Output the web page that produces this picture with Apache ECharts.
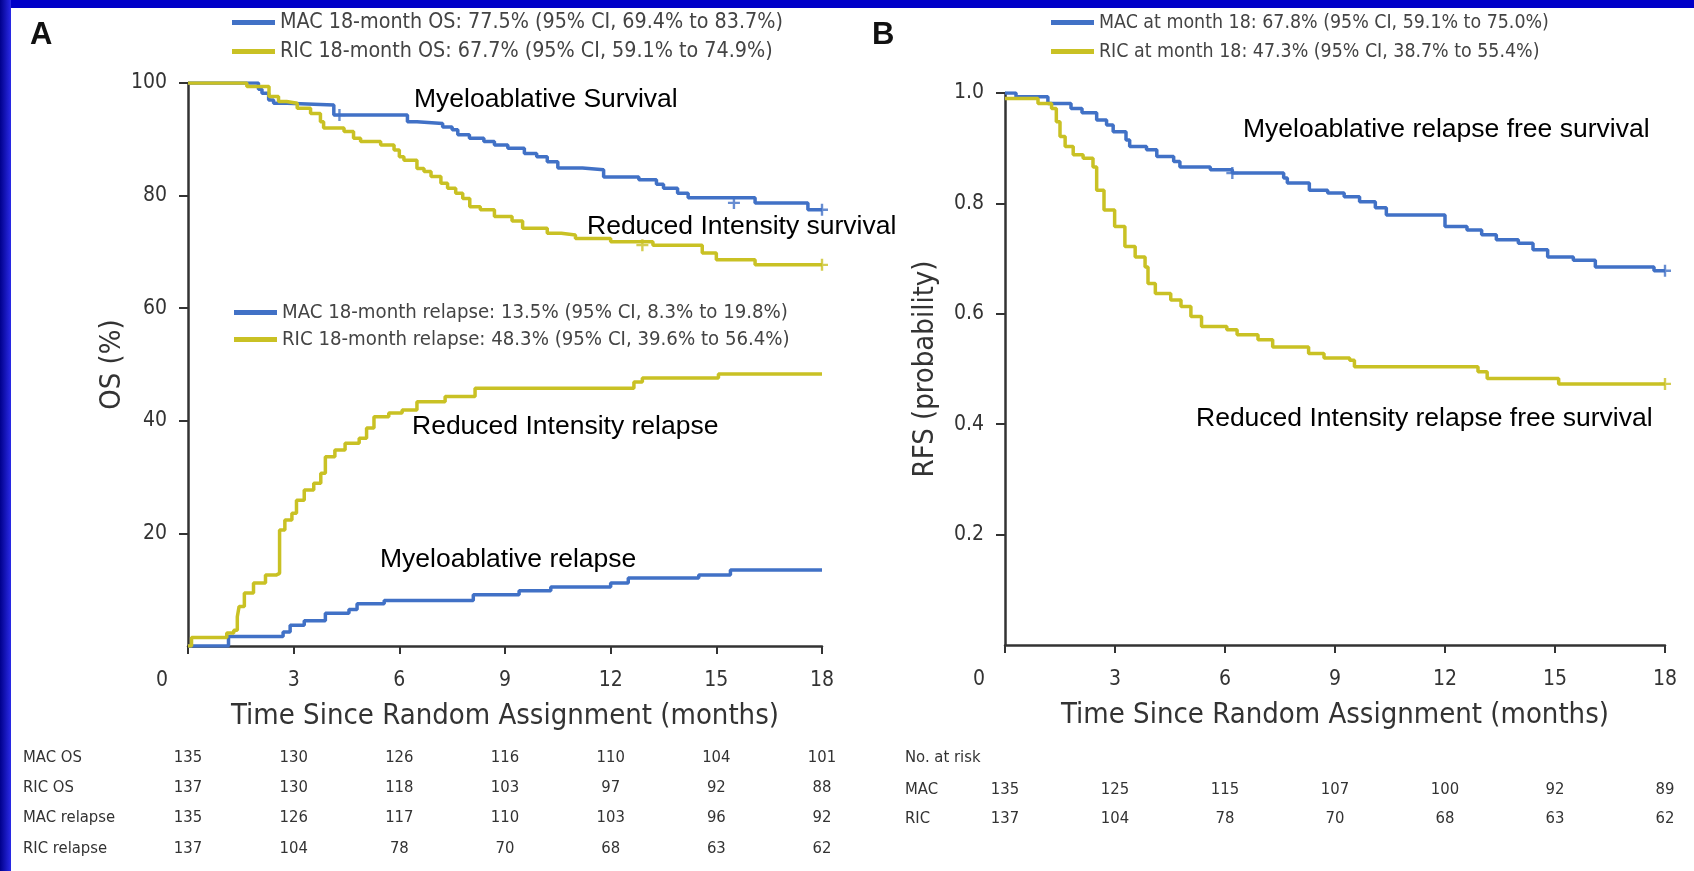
<!DOCTYPE html>
<html>
<head>
<meta charset="utf-8">
<script src="https://cdn.jsdelivr.net/npm/echarts@6/dist/echarts.min.js"></script>
<style>
  html, body { margin: 0; padding: 0; background: #ffffff; }
  #chart { width: 1694px; height: 871px; }
</style>
</head>
<body>
<div id="chart"></div>
<script>
// ---- Kaplan-Meier step data: [month, value after the event at that month] ----
const macOS = [[0,100],[2.0,98.9],[2.1,98.2],[2.29,97.0],[2.43,96.4],[2.81,96.1],[4.14,94.3],[6.23,93.1],[6.5,92.8],[7.23,92.2],[7.5,91.7],[7.66,90.8],[7.99,90.2],[8.4,89.6],[8.7,89.0],[9.08,88.4],[9.55,87.5],[9.9,86.9],[10.2,86.0],[10.5,84.9],[11.2,84.6],[11.8,83.3],[12.8,82.8],[13.3,82.0],[13.5,81.3],[13.9,80.4],[14.2,79.6],[16.1,78.7],[17.6,77.5],[18,77.5]];
const ricOS = [[0,100],[1.67,99.4],[2.3,97.6],[2.57,96.7],[2.8,96.4],[3.1,95.5],[3.48,94.6],[3.76,93.1],[3.85,92.0],[4.43,91.4],[4.7,90.2],[4.9,89.6],[5.47,89.0],[5.85,88.1],[6.0,86.9],[6.13,86.3],[6.5,84.8],[6.7,84.3],[6.9,83.4],[7.18,82.2],[7.37,81.3],[7.6,80.4],[7.8,79.5],[8.0,78.0],[8.3,77.5],[8.7,76.3],[9.2,75.5],[9.5,74.2],[10.2,73.3],[10.6,73.0],[11.0,72.4],[12.0,71.8],[13.2,71.2],[14.6,69.8],[15.0,68.6],[16.1,67.7],[18,67.7]];
const macRelapse = [[0,0],[1.15,1.7],[2.7,2.5],[2.9,3.7],[3.3,4.5],[3.9,5.8],[4.57,6.5],[4.8,7.5],[5.57,8.1],[8.1,9.1],[9.4,9.8],[10.3,10.5],[12.0,11.2],[12.5,12.1],[14.5,12.6],[15.4,13.5],[18,13.5]];
const ricRelapse = [[0,0],[0.1,1.5],[1.1,2.3],[1.3,2.8],[1.4,5.2],[1.45,7.0],[1.6,9.4],[1.86,11.2],[2.2,12.6],[2.5,12.9],[2.6,20.6],[2.75,22.4],[2.95,23.6],[3.08,25.9],[3.3,27.7],[3.57,28.9],[3.77,30.7],[3.9,33.6],[4.17,34.8],[4.46,36.0],[4.86,36.9],[5.07,38.7],[5.28,40.7],[5.7,41.4],[6.08,41.9],[6.5,43.4],[7.3,44.3],[8.15,45.8],[12.66,46.9],[12.9,47.6],[15.06,48.3],[18,48.3]];
const macRFS = [[0,1.0],[0.3,0.993],[1.17,0.981],[1.8,0.972],[2.1,0.964],[2.5,0.951],[2.77,0.942],[2.95,0.930],[3.3,0.915],[3.4,0.903],[3.86,0.897],[4.14,0.885],[4.6,0.876],[4.77,0.866],[5.6,0.861],[6.2,0.855],[7.6,0.846],[7.7,0.837],[8.3,0.824],[8.8,0.819],[9.25,0.812],[9.67,0.803],[10.1,0.792],[10.4,0.779],[12.0,0.758],[12.6,0.752],[13.0,0.743],[13.4,0.734],[14.0,0.728],[14.4,0.716],[14.8,0.703],[15.5,0.697],[16.1,0.685],[17.7,0.678],[18,0.678]];
const ricRFS = [[0,0.99],[0.9,0.981],[1.27,0.972],[1.4,0.948],[1.5,0.921],[1.64,0.903],[1.86,0.888],[2.13,0.882],[2.4,0.866],[2.5,0.824],[2.7,0.788],[2.99,0.758],[3.27,0.722],[3.55,0.703],[3.82,0.685],[3.9,0.655],[4.1,0.637],[4.52,0.625],[4.8,0.613],[5.07,0.595],[5.36,0.577],[6.05,0.571],[6.33,0.562],[6.9,0.553],[7.3,0.540],[8.28,0.528],[8.7,0.520],[9.4,0.516],[9.53,0.504],[12.9,0.495],[13.15,0.483],[15.1,0.473],[18,0.473]];

// censoring marks
const censorOS_MAC = [[4.3,94.3],[15.5,78.7],[18,77.5]];
const censorOS_RIC = [[12.9,71.2],[18,67.7]];
const censorRFS_MAC = [[6.2,0.855],[18,0.678]];
const censorRFS_RIC = [[18,0.473]];

// ---- legend entries ----
const legOS = ['MAC 18-month OS: 77.5% (95% CI, 69.4% to 83.7%)', 'RIC 18-month OS: 67.7% (95% CI, 59.1% to 74.9%)'];
const legRelapse = ['MAC 18-month relapse: 13.5% (95% CI, 8.3% to 19.8%)', 'RIC 18-month relapse: 48.3% (95% CI, 39.6% to 56.4%)'];
const legRFS = ['MAC at month 18: 67.8% (95% CI, 59.1% to 75.0%)', 'RIC at month 18: 47.3% (95% CI, 38.7% to 55.4%)'];

// ---- axes ----
const monthTicks = [0, 3, 6, 9, 12, 15, 18];
const xTitle = 'Time Since Random Assignment (months)';
const yTitleA = 'OS (%)';
const yTitleB = 'RFS (probability)';

// ---- number at risk ----
const riskRowsA = ['MAC OS', 'RIC OS', 'MAC relapse', 'RIC relapse'];
const riskA = [
  [135, 130, 126, 116, 110, 104, 101],
  [137, 130, 118, 103, 97, 92, 88],
  [135, 126, 117, 110, 103, 96, 92],
  [137, 104, 78, 70, 68, 63, 62]
];
const riskHeaderB = 'No. at risk';
const riskRowsB = ['MAC', 'RIC'];
const riskB = [
  [135, 125, 115, 107, 100, 92, 89],
  [137, 104, 78, 70, 68, 63, 62]
];

// ---- curve labels ----
const notesA = ['Myeloablative Survival', 'Reduced Intensity survival', 'Reduced Intensity relapse', 'Myeloablative relapse'];
const notesB = ['Myeloablative relapse free survival', 'Reduced Intensity relapse free survival'];

const BLUE = '#4171c6';
const YELLOW = '#c9c124';
const INK = '#333333';
const NARROW = "'Liberation Sans Narrow', 'DejaVu Sans Condensed', sans-serif";
const SANS = "'Liberation Sans', Arial, sans-serif";
const PLUS = 'path://M4,0h2v4h4v2h-4v4h-2v-4h-4v-2h4z';

const chart = echarts.init(document.getElementById('chart'), null, { renderer: 'canvas' });

function xAxisDef(gridIndex) {
  return {
    type: 'value', gridIndex, min: 0, max: 18, interval: 3,
    name: xTitle, nameLocation: 'middle', nameGap: 56,
    nameTextStyle: { fontFamily: NARROW, fontSize: 29, color: INK },
    axisLine: { lineStyle: { color: INK, width: 2.5 } },
    axisTick: { length: 8, lineStyle: { color: INK, width: 2 } },
    axisLabel: {
      margin: 24, fontFamily: NARROW, fontSize: 21, color: INK,
      formatter: v => v === 0 ? '{z|0}' : String(v),
      rich: { z: { fontFamily: NARROW, fontSize: 21, color: INK, padding: [0, 52, 0, 0] } }
    },
    splitLine: { show: false }
  };
}
function yAxisDef(gridIndex, max, interval, name, gap, fmt) {
  return {
    type: 'value', gridIndex, min: 0, max, interval,
    name, nameLocation: 'middle', nameGap: gap, nameRotate: 90,
    nameTextStyle: { fontFamily: NARROW, fontSize: 29, color: INK },
    axisLine: { lineStyle: { color: INK, width: 2.5 } },
    axisTick: { length: 9, lineStyle: { color: INK, width: 2 } },
    axisLabel: { margin: 21, fontFamily: NARROW, fontSize: 21, color: INK, showMinLabel: false, formatter: fmt },
    splitLine: { show: false }
  };
}
function km(name, data, color, xi) {
  return {
    name, type: 'line', xAxisIndex: xi, yAxisIndex: xi, data, step: 'end',
    showSymbol: false, symbol: 'none', silent: true,
    lineStyle: { color, width: 3.5 }, itemStyle: { color }
  };
}
function marks(data, color, xi) {
  return {
    type: 'scatter', xAxisIndex: xi, yAxisIndex: xi, data, symbol: PLUS, symbolSize: 12,
    silent: true, itemStyle: { color }
  };
}
function legendDef(left, top, data, gap, size) {
  return {
    left, top, orient: 'vertical', itemGap: gap, selectedMode: false,
    icon: 'rect', itemWidth: 43, itemHeight: 5,
    textStyle: { fontFamily: NARROW, fontSize: size, color: '#444444', lineHeight: 21 },
    data
  };
}
function note(text, x, y) {
  return { type: 'text', x, y, silent: true,
    style: { text, fontFamily: SANS, fontSize: 26.5, fill: '#000000', verticalAlign: 'middle' } };
}

const option = {
  animation: false,
  backgroundColor: '#ffffff',
  legend: [
    legendDef(227, 7, legOS, 8, 21.3),
    legendDef(229, 297, legRelapse, 6, 20.2),
    legendDef(1046, 7, legRFS, 8, 19.4)
  ],
  grid: [
    { left: 188, top: 83, width: 634, height: 563 },
    { left: 1005, top: 93, width: 660, height: 552 }
  ],
  xAxis: [xAxisDef(0), xAxisDef(1)],
  yAxis: [
    yAxisDef(0, 100, 20, yTitleA, 61, v => String(v)),
    yAxisDef(1, 1, 0.2, yTitleB, 65, v => v.toFixed(1))
  ],
  series: [
    km(legOS[0], macOS, BLUE, 0),
    km(legOS[1], ricOS, YELLOW, 0),
    km(legRelapse[0], macRelapse, BLUE, 0),
    km(legRelapse[1], ricRelapse, YELLOW, 0),
    km(legRFS[0], macRFS, BLUE, 1),
    km(legRFS[1], ricRFS, YELLOW, 1),
    marks(censorOS_MAC, BLUE, 0),
    marks(censorOS_RIC, YELLOW, 0),
    marks(censorRFS_MAC, BLUE, 1),
    marks(censorRFS_RIC, YELLOW, 1)
  ]
};
chart.setOption(option);

// frame, panel letters, curve labels and the number-at-risk tables
const g = [];
g.push({ type: 'rect', left: 0, top: 0, silent: true, shape: { width: 1694, height: 8 }, style: { fill: '#0000c8' } });
g.push({ type: 'rect', left: 0, top: 0, silent: true, shape: { width: 11, height: 871 },
  style: { fill: new echarts.graphic.LinearGradient(0, 0, 1, 0, [{ offset: 0, color: '#00008a' }, { offset: 1, color: '#2a2ae8' }]) } });
g.push({ type: 'text', left: 30, top: 20, silent: true, style: { text: 'A', fontFamily: SANS, fontWeight: 'bold', fontSize: 31, fill: '#111111' } });
g.push({ type: 'text', left: 872, top: 20, silent: true, style: { text: 'B', fontFamily: SANS, fontWeight: 'bold', fontSize: 31, fill: '#111111' } });
g.push(note(notesA[0], 414, 100));
g.push(note(notesA[1], 587, 227));
g.push(note(notesA[2], 412, 427));
g.push(note(notesA[3], 380, 560));
g.push(note(notesB[0], 1243, 130));
g.push(note(notesB[1], 1196, 419));

const TABLE = { fontFamily: NARROW, fontSize: 16.5, fill: INK };
const rowYA = [758, 788, 818, 849];
riskRowsA.forEach((label, r) => {
  g.push({ type: 'text', x: 23, y: rowYA[r], silent: true,
    style: Object.assign({ text: label, verticalAlign: 'middle' }, TABLE) });
  monthTicks.forEach((t, c) => {
    const px = chart.convertToPixel({ xAxisIndex: 0 }, t);
    g.push({ type: 'text', x: px, y: rowYA[r], silent: true,
      style: Object.assign({ text: String(riskA[r][c]), align: 'center', verticalAlign: 'middle' }, TABLE) });
  });
});
g.push({ type: 'text', x: 905, y: 758, silent: true,
  style: Object.assign({ text: riskHeaderB, verticalAlign: 'middle' }, TABLE) });
const rowYB = [790, 819];
riskRowsB.forEach((label, r) => {
  g.push({ type: 'text', x: 905, y: rowYB[r], silent: true,
    style: Object.assign({ text: label, verticalAlign: 'middle' }, TABLE) });
  monthTicks.forEach((t, c) => {
    const px = chart.convertToPixel({ xAxisIndex: 1 }, t);
    g.push({ type: 'text', x: px, y: rowYB[r], silent: true,
      style: Object.assign({ text: String(riskB[r][c]), align: 'center', verticalAlign: 'middle' }, TABLE) });
  });
});
chart.setOption({ graphic: g });
</script>
</body>
</html>
